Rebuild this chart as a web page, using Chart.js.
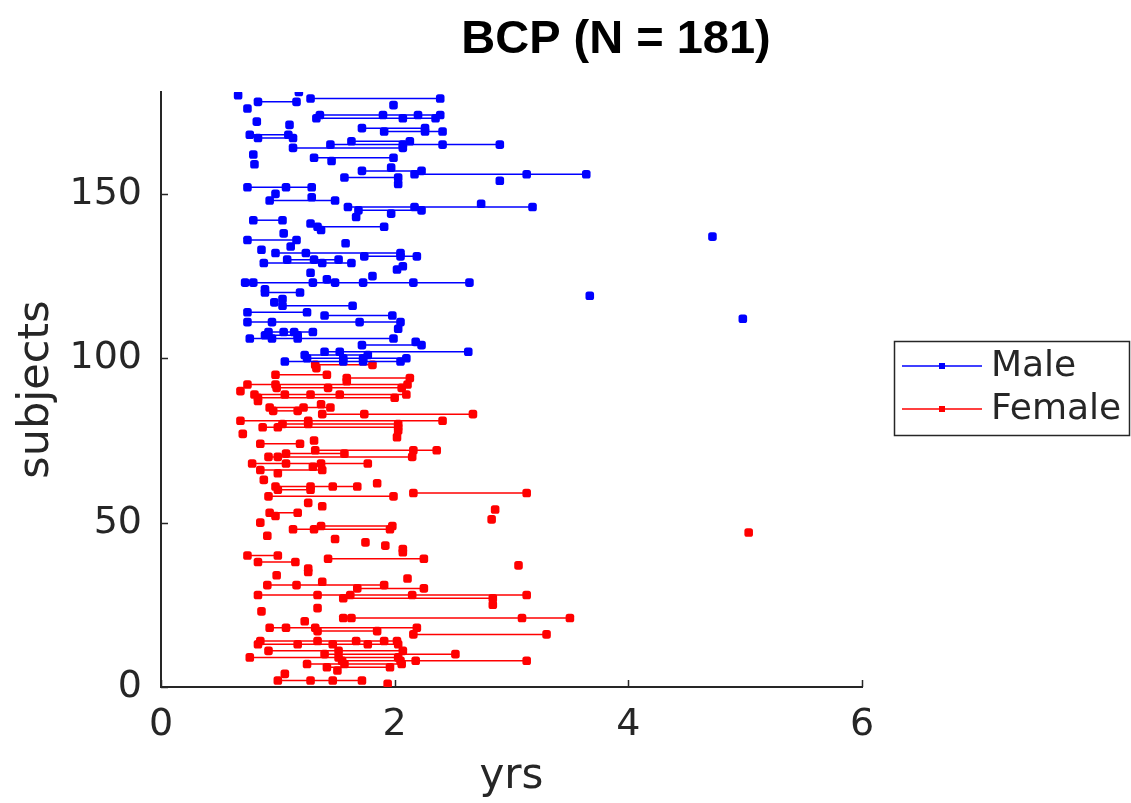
<!DOCTYPE html>
<html>
<head>
<meta charset="utf-8">
<script src="https://cdn.jsdelivr.net/npm/chart.js@4.4.1/dist/chart.umd.min.js"></script>
<style>
  html, body { margin: 0; padding: 0; background: #ffffff; }
  canvas { display: block; }
</style>
</head>
<body>
<canvas id="chart" width="1131" height="803"></canvas>
<script>
// Labels
const titleText = 'BCP (N = 181)';
const xLabel = 'yrs';
const yLabel = 'subjects';
const groupNames = ['Male', 'Female'];
const groupColors = ['#0000ff', '#ff0000'];
const xTicks = [0, 2, 4, 6];
const yTicks = [0, 50, 100, 150];

// Subject index (row) and age in years at each scan
const maleRows = [181,180,179,178,177,176,174,173,172,171,170,169,168,167,166,165,164,162,161,160,
  159,158,157,156,155,154,153,152,150,149,148,147,146,145,144,143,142,141,140,139,138,137,136,135,
  134,133,132,131,130,129,128,127,126,125,124,123,121,120,119,118,117,116,114,113,112,111,109,108,
  107,106,105,104,102,101,100,99];
const maleAges = [
  [1.18],[0.66],[1.28,2.39],[0.83,1.16],[1.99],[0.74],[1.36,1.90,2.20,2.39],[1.33,2.07,2.35],[0.82],[1.10],
  [1.72,2.26],[1.91,2.26,2.41],[0.76,1.09],[0.83,1.13],[1.63,2.13],[1.45,2.07,2.41,2.90],[1.13,2.07],[0.79],[1.31,1.99],[1.46],
  [0.80],[1.97],[1.72,2.23],[2.17,3.13,3.64],[1.57,2.03],[2.90],[2.03],[0.74,1.07,1.29],[0.98],[1.29],
  [0.93,1.49],[2.74],[1.60,2.17,3.18],[1.69,2.23],[1.97],[1.67],[0.79,1.04],[1.28],[1.34,1.91],[1.37],
  [1.05],[4.72],[0.74,1.16],[1.58],[1.11],[0.86],[0.98,1.24,2.05],[1.74,2.05,2.19],[1.08,1.31,1.52],[0.88,1.38,1.63],
  [2.07],[2.02],[1.28],[1.81],[1.42],[0.72,0.79,1.30,1.49,1.73,2.16,2.64],[0.89],[0.89,1.19],[3.67],[1.04],
  [0.97],[1.04,1.64],[0.74,1.25],[1.40,1.98],[4.98],[0.74,0.95,1.70,2.05],[2.03],[0.92,1.05,1.14,1.30],[0.89,1.17],[0.76,0.95,1.17,1.99],
  [2.18],[1.72,2.23],[1.40,1.53,2.63],[1.23,1.77],[1.25,1.56,1.73,2.10],[1.06,1.56,1.73,2.05]
];

const femaleRows = [98,97,95,94,93,92,91,90,89,88,87,86,85,84,83,81,80,79,78,77,76,75,74,72,71,70,
  68,67,66,65,63,62,61,60,59,58,56,55,54,53,52,51,50,49,48,47,46,45,44,43,42,41,40,39,38,37,36,35,
  34,33,32,31,30,28,27,25,24,23,21,20,18,17,16,14,13,11,10,9,8,7,6,5,4,2,1];
const femaleAges = [
  [1.32,1.81],[1.33],[0.98,1.42],[1.59,2.13],[1.59],[0.74,0.98,2.11],[0.99,1.43,2.06],[0.68],[0.80,1.06,1.28,1.53,2.10],[0.83,2.00],
  [0.83],[1.37],[0.93,1.22,1.45],[0.96,1.17],[1.38,1.74,2.67],[0.68,1.26,2.41],[1.04,1.26,2.03],[0.87,1.00,2.03],[2.03],[0.70],
  [2.02],[1.31],[0.85,1.19],[1.32,2.16,2.36],[1.07,1.57],[0.92,1.00,2.15],[0.78,1.07,1.37,1.77],[1.30],[0.85,1.38],[1.00],
  [0.88],[1.85],[0.98,1.28,1.47,1.68],[1.00,1.28],[2.16,3.13],[0.92,1.99],[1.26],[1.38],[2.86],[0.93,1.17],
  [0.98],[2.83],[0.85],[1.37,1.98],[1.13,1.31,1.96],[5.03],[0.91],[1.49],[1.75],[1.92],
  [2.07],[2.07],[0.74,1.00],[1.43,2.25],[0.83,1.15],[3.06],[1.26],[1.26],[0.99],[2.11],
  [1.38],[0.91,1.16,1.91],[1.68,2.25],[0.83,1.34,1.62,2.15,3.13],[1.56,2.84],[2.84],[1.34],[0.86],[1.56,1.63,3.09,3.50],[1.23],
  [0.93,1.07,1.32,2.19],[1.34,1.85],[2.16,3.30],[0.85,1.34,1.67,1.91,2.02],[0.83,1.17,1.47,1.77,2.03],[0.92,1.52,2.07],[1.40,2.52],[0.76,1.52,2.03],[1.55,2.05,2.18,3.13],[1.25,1.57,2.06],
  [1.42,1.96],[1.51],[1.06],[1.00,1.28,1.47,1.72],[1.94]
];

const AXIS_COLOR = '#262626';
const TICK_FONT = { family: 'DejaVu Sans', size: 38 };

// One line-with-markers dataset per subject
function subjectDatasets(rows, ages, color) {
  return rows.map((row, i) => ({
    data: ages[i].map(a => ({ x: a, y: row })),
    showLine: true,
    borderColor: color,
    backgroundColor: color,
    borderWidth: 1.5,
    pointStyle: 'rectRounded',
    pointRadius: 5,
    pointBorderWidth: 0,
    pointHoverRadius: 5
  }));
}

const datasets = [
  ...subjectDatasets(maleRows, maleAges, groupColors[0]),
  ...subjectDatasets(femaleRows, femaleAges, groupColors[1])
];

// Title, axis titles, inward tick marks and the boxed legend
const decorations = {
  id: 'decorations',
  afterDraw(chart) {
    const { ctx, chartArea: a, scales } = chart;
    const x = scales.x, y = scales.y;
    ctx.save();
    ctx.strokeStyle = AXIS_COLOR;
    ctx.lineWidth = 1.5;
    ctx.beginPath();
    xTicks.forEach(v => {
      const px = Math.round(x.getPixelForValue(v)) + 0.5;
      ctx.moveTo(px, a.bottom);
      ctx.lineTo(px, a.bottom - 7);
    });
    yTicks.forEach(v => {
      const py = Math.round(y.getPixelForValue(v)) + 0.5;
      ctx.moveTo(a.left, py);
      ctx.lineTo(a.left + 7, py);
    });
    ctx.stroke();

    ctx.fillStyle = '#000000';
    ctx.font = 'bold 47px "Liberation Sans", Arial, sans-serif';
    ctx.textAlign = 'center';
    ctx.textBaseline = 'alphabetic';
    ctx.fillText(titleText, 616, 53);

    ctx.fillStyle = AXIS_COLOR;
    ctx.font = '42px "DejaVu Sans", sans-serif';
    ctx.fillText(xLabel, (a.left + a.right) / 2, 788);
    ctx.save();
    ctx.translate(48, (a.top + a.bottom) / 2);
    ctx.rotate(-Math.PI / 2);
    ctx.font = '43px "DejaVu Sans", sans-serif';
    ctx.fillText(yLabel, 0, 0);
    ctx.restore();

    // legend
    const bx = 894.5, by = 341.5, bw = 235, bh = 94;
    ctx.fillStyle = '#ffffff';
    ctx.fillRect(bx, by, bw, bh);
    ctx.strokeStyle = AXIS_COLOR;
    ctx.lineWidth = 1.5;
    ctx.strokeRect(bx, by, bw, bh);
    const rowsY = [366, 409];
    groupNames.forEach((name, i) => {
      const ly = rowsY[i];
      ctx.strokeStyle = groupColors[i];
      ctx.lineWidth = 1.3;
      ctx.beginPath();
      ctx.moveTo(902, ly);
      ctx.lineTo(982, ly);
      ctx.stroke();
      ctx.fillStyle = groupColors[i];
      ctx.fillRect(939, ly - 3, 6, 6);
      ctx.fillStyle = AXIS_COLOR;
      ctx.font = '36px "DejaVu Sans", sans-serif';
      ctx.textAlign = 'left';
      ctx.textBaseline = 'middle';
      ctx.fillText(name, 991, ly + 1);
    });
    ctx.restore();
  }
};

new Chart(document.getElementById('chart'), {
  type: 'scatter',
  data: { datasets },
  options: {
    responsive: false,
    animation: false,
    devicePixelRatio: 1,
    layout: { padding: { left: 0, top: 92, right: 269, bottom: 0 } },
    plugins: { legend: { display: false }, tooltip: { enabled: false } },
    scales: {
      x: {
        type: 'linear',
        min: 0,
        max: 6,
        afterBuildTicks(scale) { scale.ticks = xTicks.map(v => ({ value: v })); },
        afterFit(scale) { scale.height = 116; },
        ticks: { font: TICK_FONT, color: AXIS_COLOR, padding: 15, maxRotation: 0 },
        grid: { display: false, drawTicks: false },
        border: { display: true, color: AXIS_COLOR, width: 2 }
      },
      y: {
        type: 'linear',
        min: 0,
        max: 181,
        afterBuildTicks(scale) { scale.ticks = yTicks.map(v => ({ value: v })); },
        afterFit(scale) { scale.width = 161; },
        ticks: { font: TICK_FONT, color: AXIS_COLOR, padding: 19 },
        grid: { display: false, drawTicks: false },
        border: { display: true, color: AXIS_COLOR, width: 2 }
      }
    }
  },
  plugins: [decorations]
});
</script>
</body>
</html>
